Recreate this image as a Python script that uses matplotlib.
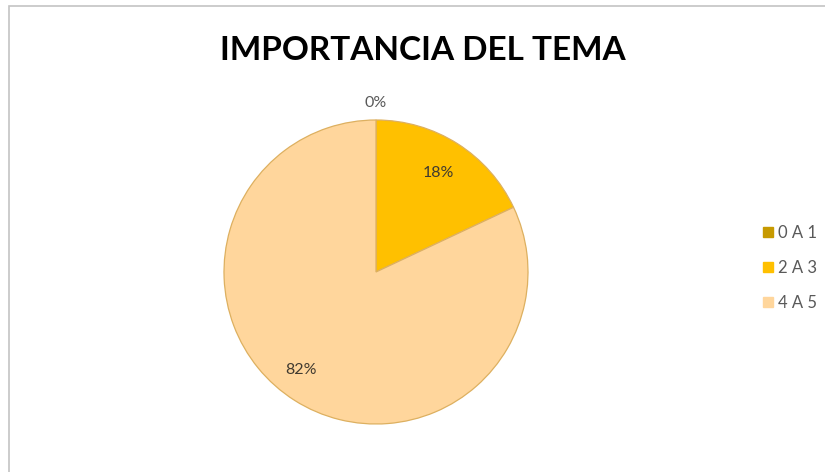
import numpy as np
import matplotlib.pyplot as plt
from matplotlib.patches import Rectangle
from matplotlib.lines import Line2D

# encuesta: importancia del tema
categorias = ["0 A 1", "2 A 3", "4 A 5"]
porcentajes = [0, 18, 82]
colores = ["#C79A00", "#FFC000", "#FFD69C"]

W, H = 825, 472
fig = plt.figure(figsize=(W / 100, H / 100), dpi=100)
fig.patch.set_facecolor("white")

# marco del grafico (se sale por la derecha y por abajo)
fig.patches.append(Rectangle((9 / W, -0.05), 1.2, (H - 6) / H + 0.05,
                             transform=fig.transFigure, fill=False,
                             edgecolor="#C4C4C4", linewidth=1.2))

fig.text(423 / W, 1 - 51 / H, "IMPORTANCIA DEL TEMA", ha="center", va="center",
         fontsize=24, fontweight="bold", family="Lato", color="#000000")

# pastel: centro (376, 272), radio 152 px
cx, cy, r = 376, 272, 152
ax = fig.add_axes([(cx - r) / W, (H - cy - r) / H, 2 * r / W, 2 * r / H])
wedges, _ = ax.pie(porcentajes, colors=colores, startangle=90, counterclock=False,
                   radius=1.0, wedgeprops=dict(edgecolor="#DDB060", linewidth=0.9))
ax.set_xlim(-1, 1)
ax.set_ylim(-1, 1)
ax.set_aspect("equal")
ax.axis("off")

# etiquetas de porcentaje
distancias = [1.11, 0.77, 0.81]
desfase = [0, 0, -5]
for w, v, d, off in zip(wedges, porcentajes, distancias, desfase):
    ang = np.deg2rad((w.theta1 + w.theta2) / 2 + off)
    col = "#595959" if d > 1 else "#403A30"
    ax.text(d * np.cos(ang), d * np.sin(ang), f"{v:.0f}%", ha="center", va="center",
            fontsize=11.5, family="Lato", color=col, clip_on=False)

# leyenda
handles = [Line2D([], [], marker="s", linestyle="none", markersize=7,
                  markerfacecolor=c, markeredgecolor=c) for c in colores]
leg = fig.legend(handles, categorias, loc="center left",
                 bbox_to_anchor=(748 / W, 1 - 268 / H), frameon=False,
                 handlelength=0.6, handletextpad=0.3, labelspacing=1.15,
                 prop=dict(family="Lato", size=12))
for t in leg.get_texts():
    t.set_color("#595959")

fig.savefig("out.png", dpi=100)
